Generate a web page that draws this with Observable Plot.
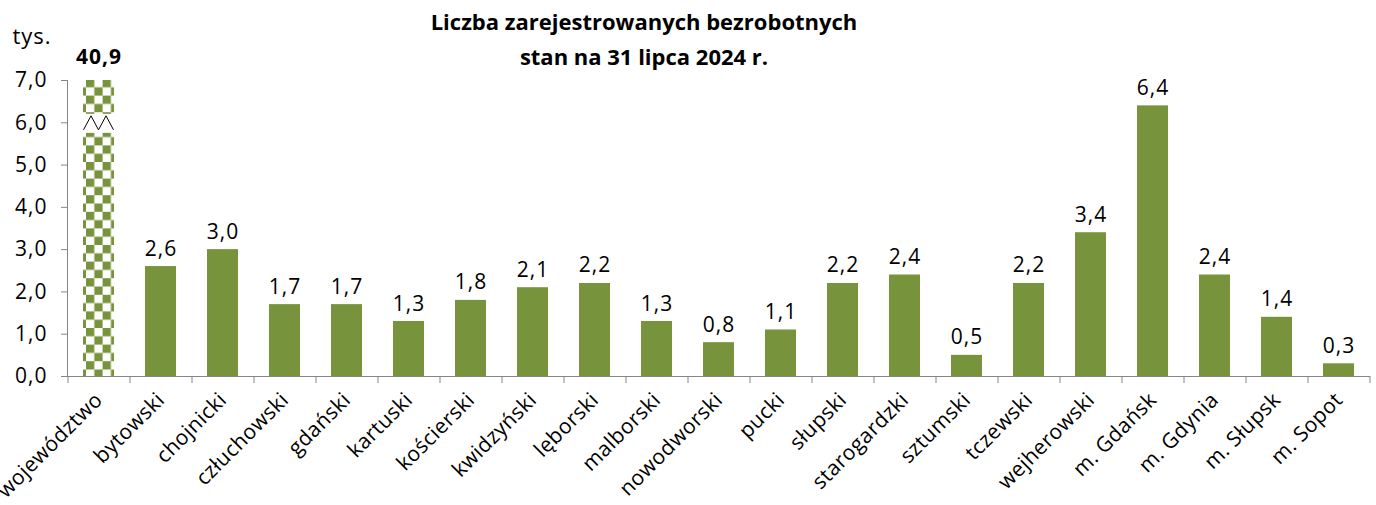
<!DOCTYPE html>
<html><head><meta charset="utf-8">
<script src="https://cdn.jsdelivr.net/npm/d3@7"></script>
<script src="https://cdn.jsdelivr.net/npm/@observablehq/plot@0.6"></script>
<style>
body{margin:0;background:#fff;}
#wrap{position:relative;width:1376px;height:505px;font-family:"Open Sans",sans-serif;}
#title{position:absolute;left:0;width:1288px;top:4px;text-align:center;font-weight:bold;font-size:22px;line-height:35px;color:#000;}
#wrap svg{position:absolute;left:0;top:0;}
#wrap svg text{letter-spacing:1px;}
#wrap svg .xlab text{letter-spacing:0.4px;}
</style></head>
<body><div id="wrap"><div id="title">Liczba zarejestrowanych bezrobotnych<br>stan na 31 lipca 2024 r.</div></div>
<script>
const categories = ["województwo","bytowski","chojnicki","człuchowski","gdański","kartuski","kościerski","kwidzyński","lęborski","malborski","nowodworski","pucki","słupski","starogardzki","sztumski","tczewski","wejherowski","m. Gdańsk","m. Gdynia","m. Słupsk","m. Sopot"];
const values = [40.9,2.6,3.0,1.7,1.7,1.3,1.8,2.1,2.2,1.3,0.8,1.1,2.2,2.4,0.5,2.2,3.4,6.4,2.4,1.4,0.3];
const yTicks = [0,1,2,3,4,5,6,7];
const yMax = 7;
const unit = "tys.";

const green = "#77933C";
const axisGray = "#868686";
const font = "'Open Sans', sans-serif";
const W = 1376, H = 505, mL = 67, mR = 7, mT = 80, mB = 129;
const step = (W - mL - mR) / categories.length;
const barW = step * 0.5;
const breakTop = 6.2, breakBottom = 5.75;
const cell = 8.3;

const fmt = v => v.toFixed(1).replace(".", ",");
const data = categories.map((c, i) => ({cat: c, value: values[i], shown: Math.min(values[i], yMax), broken: values[i] > yMax}));
const normal = data.filter(d => !d.broken);
const broken = data.filter(d => d.broken);

const chart = Plot.plot({
  width: W, height: H, marginLeft: mL, marginRight: mR, marginTop: mT, marginBottom: mB,
  style: {fontFamily: font, fontSize: "21px", color: "#000", background: "transparent"},
  x: {domain: categories, paddingInner: 0.5, paddingOuter: 0.25, axis: null},
  y: {domain: [0, yMax], axis: null},
  marks: [
    Plot.barY(normal, {x: "cat", y: "shown", fill: green}),
    Plot.barY(broken, {x: "cat", y: "shown", fill: "url(#checker)"}),
    Plot.text(normal, {x: "cat", y: "shown", text: d => fmt(d.value), lineAnchor: "bottom", dy: -11, fontSize: 21, fill: "#000"}),
    Plot.text(broken, {x: "cat", y: "shown", text: d => fmt(d.value), lineAnchor: "bottom", dy: -17, fontSize: 21, fontWeight: "bold", fill: "#000"}),
    Plot.axisY({ticks: yTicks, tickFormat: fmt, tickSize: 6, tickPadding: 14, stroke: axisGray, fill: "#000", fontSize: 21, label: null}),
    Plot.axisX({tickSize: 0, tickRotate: -45, tickPadding: 20, fill: "#000", fontSize: 21, label: null, className: "xlab"}),
    Plot.axisX({tickSize: 7, tickFormat: () => "", dx: -step / 2, stroke: axisGray, label: null}),
    Plot.axisX({ticks: [categories[categories.length - 1]], tickSize: 7, tickFormat: () => "", dx: step / 2, stroke: axisGray, label: null}),
    Plot.frame({anchor: "left", stroke: axisGray}),
    Plot.frame({anchor: "bottom", stroke: axisGray}),
    Plot.text([unit], {frameAnchor: "top-left", text: d => d, textAnchor: "start", lineAnchor: "middle", dx: -55, dy: -44, fontSize: 22, fill: "#000"})
  ]
});

document.getElementById("wrap").appendChild(chart);

// checker pattern + axis break for the clipped bar
const xs = chart.scale("x"), ys = chart.scale("y");
const svg = d3.select(chart);
broken.forEach(d => {
  const bx = xs.apply(d.cat), bw = barW;
  const pat = svg.insert("defs", ":first-child").append("pattern")
    .attr("id", "checker").attr("patternUnits", "userSpaceOnUse")
    .attr("x", bx + 3).attr("y", ys.apply(yMax) - 1).attr("width", 2 * cell).attr("height", 2 * cell);
  pat.append("rect").attr("width", 2 * cell).attr("height", 2 * cell).attr("fill", "#fff");
  pat.append("rect").attr("width", cell).attr("height", cell).attr("fill", green);
  pat.append("rect").attr("x", cell).attr("y", cell).attr("width", cell).attr("height", cell).attr("fill", green);
  const yT = ys.apply(breakTop), yB = ys.apply(breakBottom);
  svg.append("rect").attr("x", bx - 1).attr("y", yT).attr("width", bw + 2).attr("height", yB - yT).attr("fill", "#fff");
  const zt = yT + 2, zb = yB - 3, x0 = bx + 0.5, x1 = bx + bw - 0.5, q = (x1 - x0) / 4;
  svg.append("path")
    .attr("d", `M${x0},${zb}L${x0 + q},${zt}L${x0 + 2 * q},${zb}L${x0 + 3 * q},${zt}L${x1},${zb}`)
    .attr("fill", "none").attr("stroke", "#000").attr("stroke-width", 1);
});
</script>
</body></html>
